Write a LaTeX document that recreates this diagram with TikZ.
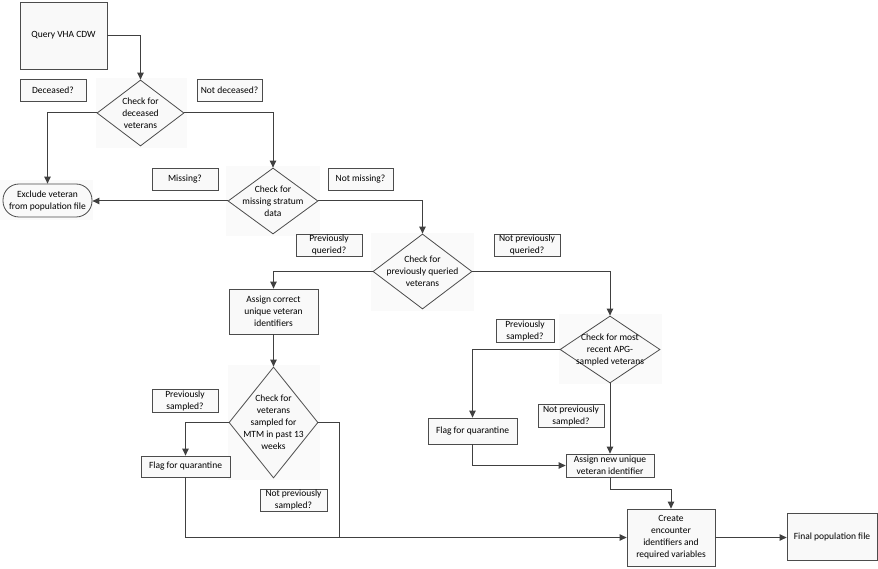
\documentclass[tikz,border=0pt]{standalone}
\usepackage{fontspec}
\setmainfont{Carlito}
\usetikzlibrary{shapes.geometric,arrows.meta}
\begin{document}
\begin{tikzpicture}[x=1pt,y=-1pt,
  txt/.style={font=\fontsize{9.5}{12}\selectfont, align=center},
  box/.style={txt, draw=black!70, fill=gray!5, line width=0.8pt, inner sep=0pt},
  dia/.style={diamond, draw=black!70, fill=gray!5, line width=0.8pt, inner sep=0pt},
  bg/.style={fill=gray!4},
  conn/.style={draw=black!75, line width=1pt},
  arr/.style={conn, -{Triangle[length=7pt,width=6.5pt]}}
]
\useasboundingbox (0,0) rectangle (878,569);
\fill[white] (0,0) rectangle (878,569);
% light backgrounds behind diamonds
\fill[bg] (96,78) rectangle (187,148);
\fill[bg] (226,166) rectangle (320,236);
\fill[bg] (371,233) rectangle (474,311);
\fill[bg] (559,314) rectangle (662,384);
\fill[bg] (228,365) rectangle (320,480);
\fill[bg] (0,180) rectangle (93,220);

\node[box, minimum width=87pt, minimum height=67pt] (q) at (63.5,35.5) {Query VHA CDW};
\node[dia, minimum width=87pt, minimum height=66pt, label={[txt]center:Check for\\deceased\\veterans}] (d1) at (140.5,113) {};
\node[box, minimum width=66pt, minimum height=22pt] (dec) at (53,90) {Deceased?};
\node[box, minimum width=65pt, minimum height=22pt] (ndec) at (229.5,90) {Not deceased?};
\node[box, minimum width=89pt, minimum height=33pt, rounded corners=16pt] (excl) at (47.5,200.5) {Exclude veteran\\from population file};
\node[dia, minimum width=90pt, minimum height=66pt, label={[txt]center:Check for\\missing stratum\\data}] (d2) at (273,201) {};
\node[box, minimum width=66pt, minimum height=22pt] (miss) at (185,179) {Missing?};
\node[box, minimum width=65pt, minimum height=22pt] (nmiss) at (360.5,179) {Not missing?};
\node[dia, minimum width=99pt, minimum height=75pt, label={[txt]center:Check for\\previously queried\\veterans}] (d3) at (422.5,271.5) {};
\node[box, minimum width=66pt, minimum height=22pt] (pq) at (329,245) {Previously\\queried?};
\node[box, minimum width=66pt, minimum height=22pt] (npq) at (527,245) {Not previously\\queried?};
\node[dia, minimum width=100pt, minimum height=67pt, label={[txt]center:Check for most\\recent APG-\\sampled veterans}] (d4) at (610,349.5) {};
\node[box, minimum width=58pt, minimum height=23pt] (ps2) at (525,330.5) {Previously\\sampled?};
\node[box, minimum width=89pt, minimum height=45pt] (ac) at (273.5,311.5) {Assign correct\\unique veteran\\identifiers};
\node[dia, minimum width=89pt, minimum height=111pt, label={[txt]center:Check for\\veterans\\sampled for\\MTM in past 13\\weeks}] (d5) at (273.5,422.5) {};
\node[box, minimum width=66pt, minimum height=23pt] (ps1) at (185,400.5) {Previously\\sampled?};
\node[box, minimum width=89pt, minimum height=21pt] (fq1) at (185.5,466.5) {Flag for quarantine};
\node[box, minimum width=67pt, minimum height=22pt] (nps1) at (293.5,500) {Not previously\\sampled?};
\node[box, minimum width=89pt, minimum height=26pt] (fq2) at (472.5,431) {Flag for quarantine};
\node[box, minimum width=66pt, minimum height=23pt] (nps2) at (571,415.5) {Not previously\\sampled?};
\node[box, minimum width=88pt, minimum height=23pt] (an) at (610,465.5) {Assign new unique\\veteran identifier};
\node[box, minimum width=88pt, minimum height=57pt] (cr) at (671,537.5) {Create\\encounter\\identifiers and\\required variables};
\node[box, minimum width=90pt, minimum height=47pt] (fin) at (832,536.5) {Final population file};
\coordinate (j) at (339,537.5);

\draw[arr] (q.east) -| (d1.north);
\draw[arr] (d1.west) -| (excl.north);
\draw[arr] (d1.east) -| (d2.north);
\draw[arr] (d2.west) -- (d2.west -| excl.east);
\draw[arr] (d2.east) -| (d3.north);
\draw[arr] (d3.west) -| (ac.north);
\draw[arr] (d3.east) -| (d4.north);
\draw[arr] (ac.south) -- (d5.north);
\draw[arr] (d5.west) -| (fq1.north);
\draw[arr] (d4.west) -| (fq2.north);
\draw[arr] (d4.south) -- (an.north);
\draw[arr] (fq2.south) |- (an.west);
\draw[arr] (an.south) -- ++(0,12) -| (cr.north);
\draw[arr] (fq1.south) |- (cr.west);
\draw[conn] (d5.east) -| (j);
\draw[arr] (cr.east) -- (cr.east -| fin.west);
\end{tikzpicture}
\end{document}
